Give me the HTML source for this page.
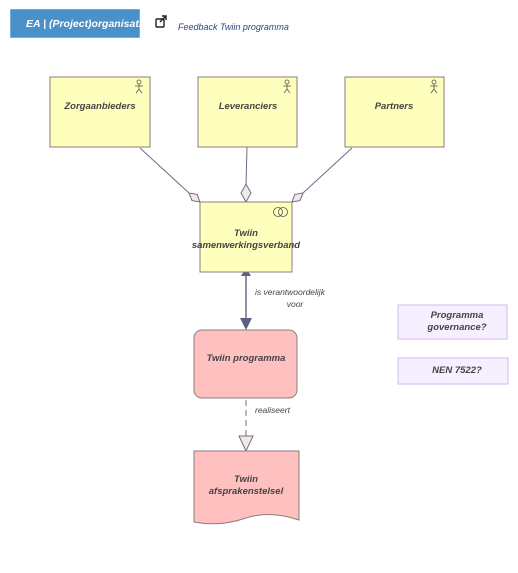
<!DOCTYPE html>
<html><head><style>
body{margin:0;width:518px;height:568px;background:#fff;font-family:"Liberation Sans",sans-serif;overflow:hidden}
</style></head><body>
<svg width="518" height="568" xmlns="http://www.w3.org/2000/svg" font-family="Liberation Sans, sans-serif">
<rect x="10" y="9" width="130" height="29" fill="#4a90c9" stroke="#fff" stroke-width="0.5"/>
<text x="26" y="27" font-size="10.5" font-weight="bold" font-style="italic" fill="#fff">EA | (Project)organisatie</text>
<rect x="140" y="8" width="30" height="32" fill="#fff"/>
<g stroke="#222" stroke-width="1.4" fill="none"><rect x="156" y="19" width="8" height="8" rx="1"/><path d="M160 22 L166 16 M162 16 H166 V20"/></g>
<text x="178" y="30" font-size="9" font-style="italic" fill="#2b4a7a">Feedback Twiin programma</text>

<g stroke="#6a6f88" stroke-width="1" fill="none">
<line x1="140" y1="148" x2="189" y2="193"/>
<line x1="247" y1="147" x2="246" y2="186"/>
<line x1="352" y1="148" x2="303" y2="193"/>
<line x1="246" y1="272" x2="246" y2="322" stroke-width="1.5"/>
<line x1="246" y1="400" x2="246" y2="436" stroke-dasharray="6,4"/>
</g>
<g fill="#f5e8e4" stroke="#6a6f88" stroke-width="1">
<polygon points="200,202 192,200.6 189,193 197.2,194.4"/>
<polygon points="246,184 251,193 246,202 241,193"/>
<polygon points="292,202 300,200.6 303,193 294.8,194.4"/>
<polygon points="239,436 253,436 246,451"/>
</g>
<polygon points="246,268 251,276 241,276" fill="#5a6280"/>
<polygon points="240,318 252,318 246,330" fill="#5a6280"/>

<g fill="#ffffbd" stroke="#8a7d7d" stroke-width="1">
<rect x="50" y="77" width="100" height="70"/>
<rect x="198" y="77" width="99" height="70"/>
<rect x="345" y="77" width="99" height="70"/>
<rect x="200" y="202" width="92" height="70"/>
</g>
<g stroke="#555" stroke-width="0.8" fill="none">
<circle cx="139" cy="82" r="2"/><path d="M139 84 V89 M135 86 H143 M136 93 L139 89 L142 93"/>
<circle cx="287" cy="82" r="2"/><path d="M287 84 V89 M283 86 H291 M284 93 L287 89 L290 93"/>
<circle cx="434" cy="82" r="2"/><path d="M434 84 V89 M430 86 H438 M431 93 L434 89 L437 93"/>
<circle cx="278" cy="212" r="4.5"/><circle cx="283" cy="212" r="4.5"/>
</g>
<g font-size="9.5" font-weight="bold" font-style="italic" fill="#444" text-anchor="middle">
<text x="100" y="109">Zorgaanbieders</text>
<text x="248" y="109">Leveranciers</text>
<text x="394" y="109">Partners</text>
<text x="246" y="236">Twiin</text>
<text x="246" y="248">samenwerkingsverband</text>
</g>
<text x="290" y="295" font-size="8.5" font-style="italic" fill="#444" text-anchor="middle">is verantwoordelijk</text>
<text x="295" y="307" font-size="8.5" font-style="italic" fill="#444" text-anchor="middle">voor</text>

<rect x="194" y="330" width="103" height="68" rx="8" fill="#ffc0c0" stroke="#8a7d7d"/>
<text x="246" y="361" font-size="9.5" font-weight="bold" font-style="italic" fill="#444" text-anchor="middle">Twiin programma</text>
<text x="255" y="413" font-size="8.5" font-style="italic" fill="#444">realiseert</text>

<path d="M194 451 H299 V520 Q270 510 246 518 Q220 527 194 522 Z" fill="#ffc0c0" stroke="#8a7d7d"/>
<g font-size="9.5" font-weight="bold" font-style="italic" fill="#444" text-anchor="middle">
<text x="246" y="482">Twiin</text>
<text x="246" y="494">afsprakenstelsel</text>
</g>

<rect x="398" y="305" width="109" height="34" fill="#f6efff" stroke="#d6b8f0"/>
<rect x="398" y="358" width="110" height="26" fill="#f6efff" stroke="#d6b8f0"/>
<g font-size="9.5" font-weight="bold" font-style="italic" fill="#444" text-anchor="middle">
<text x="457" y="318">Programma</text>
<text x="457" y="330">governance?</text>
<text x="457" y="373">NEN 7522?</text>
</g>
</svg>
</body></html>
